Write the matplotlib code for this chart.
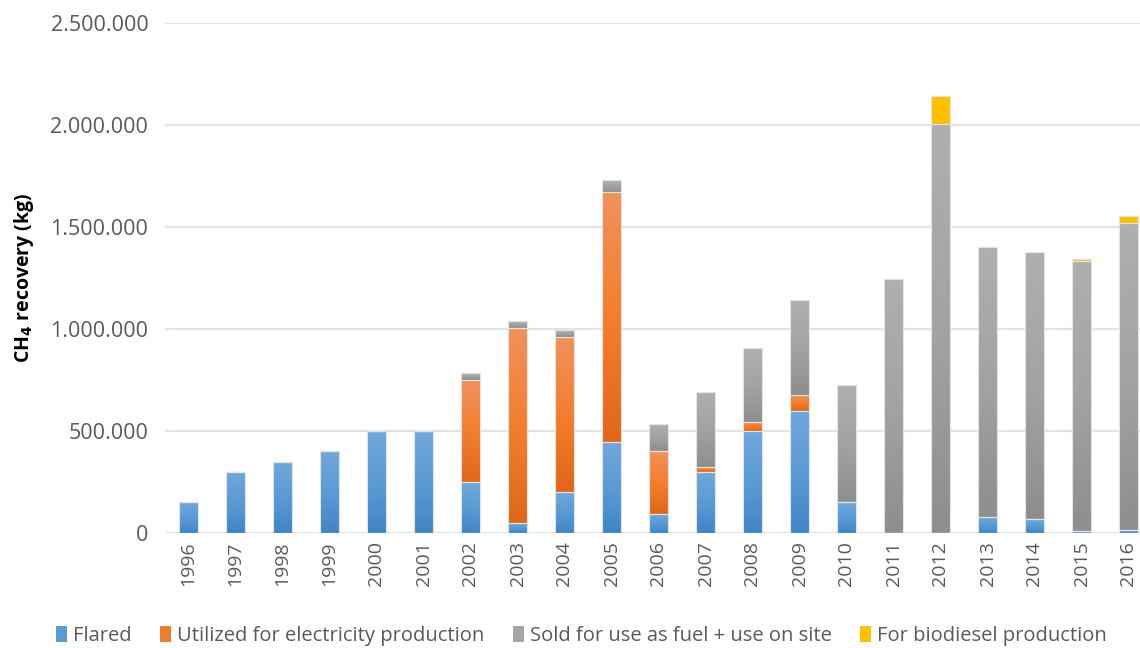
import matplotlib
matplotlib.use("Agg")
import matplotlib.pyplot as plt
import numpy as np
from matplotlib.colors import LinearSegmentedColormap
from matplotlib.patches import Patch
from matplotlib.ticker import FuncFormatter

plt.rcParams["font.family"] = ["Open Sans", "DejaVu Sans"]

years = [str(y) for y in range(1996, 2017)]
flared = [150000, 300000, 350000, 400000, 500000, 500000, 250000, 50000, 200000, 445000,
          95000, 297000, 500000, 600000, 150000, 0, 0, 78000, 70000, 8000, 15000]
electricity = [0, 0, 0, 0, 0, 0, 500000, 955000, 760000, 1225000,
               308000, 25000, 45000, 78000, 0, 0, 0, 0, 0, 0, 0]
sold = [0, 0, 0, 0, 0, 0, 35000, 33000, 33000, 58000,
        133000, 370000, 360000, 462000, 577000, 1243000, 2005000, 1325000, 1307000, 1324000, 1503000]
biodiesel = [0, 0, 0, 0, 0, 0, 0, 0, 0, 0,
             0, 0, 0, 0, 0, 0, 137000, 0, 0, 12000, 35000]

series = [
    ("Flared", flared, ("#70a7dc", "#5b9bd5", "#4185c8"), "#5b9bd5"),
    ("Utilized for electricity production", electricity, ("#f0915c", "#f47e2e", "#e0671a"), "#ed7d31"),
    ("Sold for use as fuel + use on site", sold, ("#afafaf", "#a3a3a3", "#8e8e8e"), "#a5a5a5"),
    ("For biodiesel production", biodiesel, ("#ffc000", "#ffc000", "#ffc000"), "#ffc000"),
]

fig = plt.figure(figsize=(11.4, 6.48), dpi=100)
ax = fig.add_axes([165 / 1140, 115 / 648, 987 / 1140, 510 / 648])

x = np.arange(len(years))
bottom = np.zeros(len(years))
grad = np.linspace(0, 1, 64).reshape(-1, 1)
for name, vals, stops, solid in series:
    vals = np.array(vals, dtype=float)
    bars = ax.bar(x, vals, width=0.41, bottom=bottom, color="none",
                  edgecolor="#e4e4e4", linewidth=0.8, zorder=3)
    cmap = LinearSegmentedColormap.from_list(name, list(stops))
    # gradient fill, light at the top of each segment
    for b, v in zip(bars, vals):
        if v <= 0:
            continue
        x0, y0 = b.get_x(), b.get_y()
        im = ax.imshow(grad, extent=(x0, x0 + b.get_width(), y0, y0 + v), origin="upper",
                       cmap=cmap, aspect="auto", zorder=2, interpolation="bilinear")
        im.set_clip_path(b)
    bottom += vals

ax.set_xlim(-0.5, 20.5)
ax.set_ylim(0, 2500000)
ax.set_yticks(np.arange(0, 2500001, 500000))
ax.yaxis.set_major_formatter(FuncFormatter(lambda v, p: f"{int(v):,}".replace(",", ".")))
ax.set_xticks(x)
ax.set_xticklabels(years, rotation=90)
ax.tick_params(axis="both", length=0, colors="#595959")
ax.tick_params(axis="x", pad=6, labelsize=14)
ax.tick_params(axis="y", pad=12, labelsize=15.5)
ax.grid(axis="y", color="#dfe3ea", linewidth=1.6, zorder=0)
ax.set_axisbelow(True)
for s in ax.spines.values():
    s.set_visible(False)

ax.set_ylabel(r"CH$_\mathbf{4}$ recovery (kg)", fontsize=14, fontweight="bold", color="black", labelpad=10)

handles = [Patch(facecolor=s[3], edgecolor="none", label=s[0]) for s in series]
fig.legend(handles=handles, loc="lower center", bbox_to_anchor=(0.51, -0.025), ncol=4, frameon=False,
           fontsize=14.5, handlelength=0.55, handleheight=0.9, handletextpad=0.3, columnspacing=1.4,
           labelcolor="#595959")

fig.savefig("out.png", dpi=100)
